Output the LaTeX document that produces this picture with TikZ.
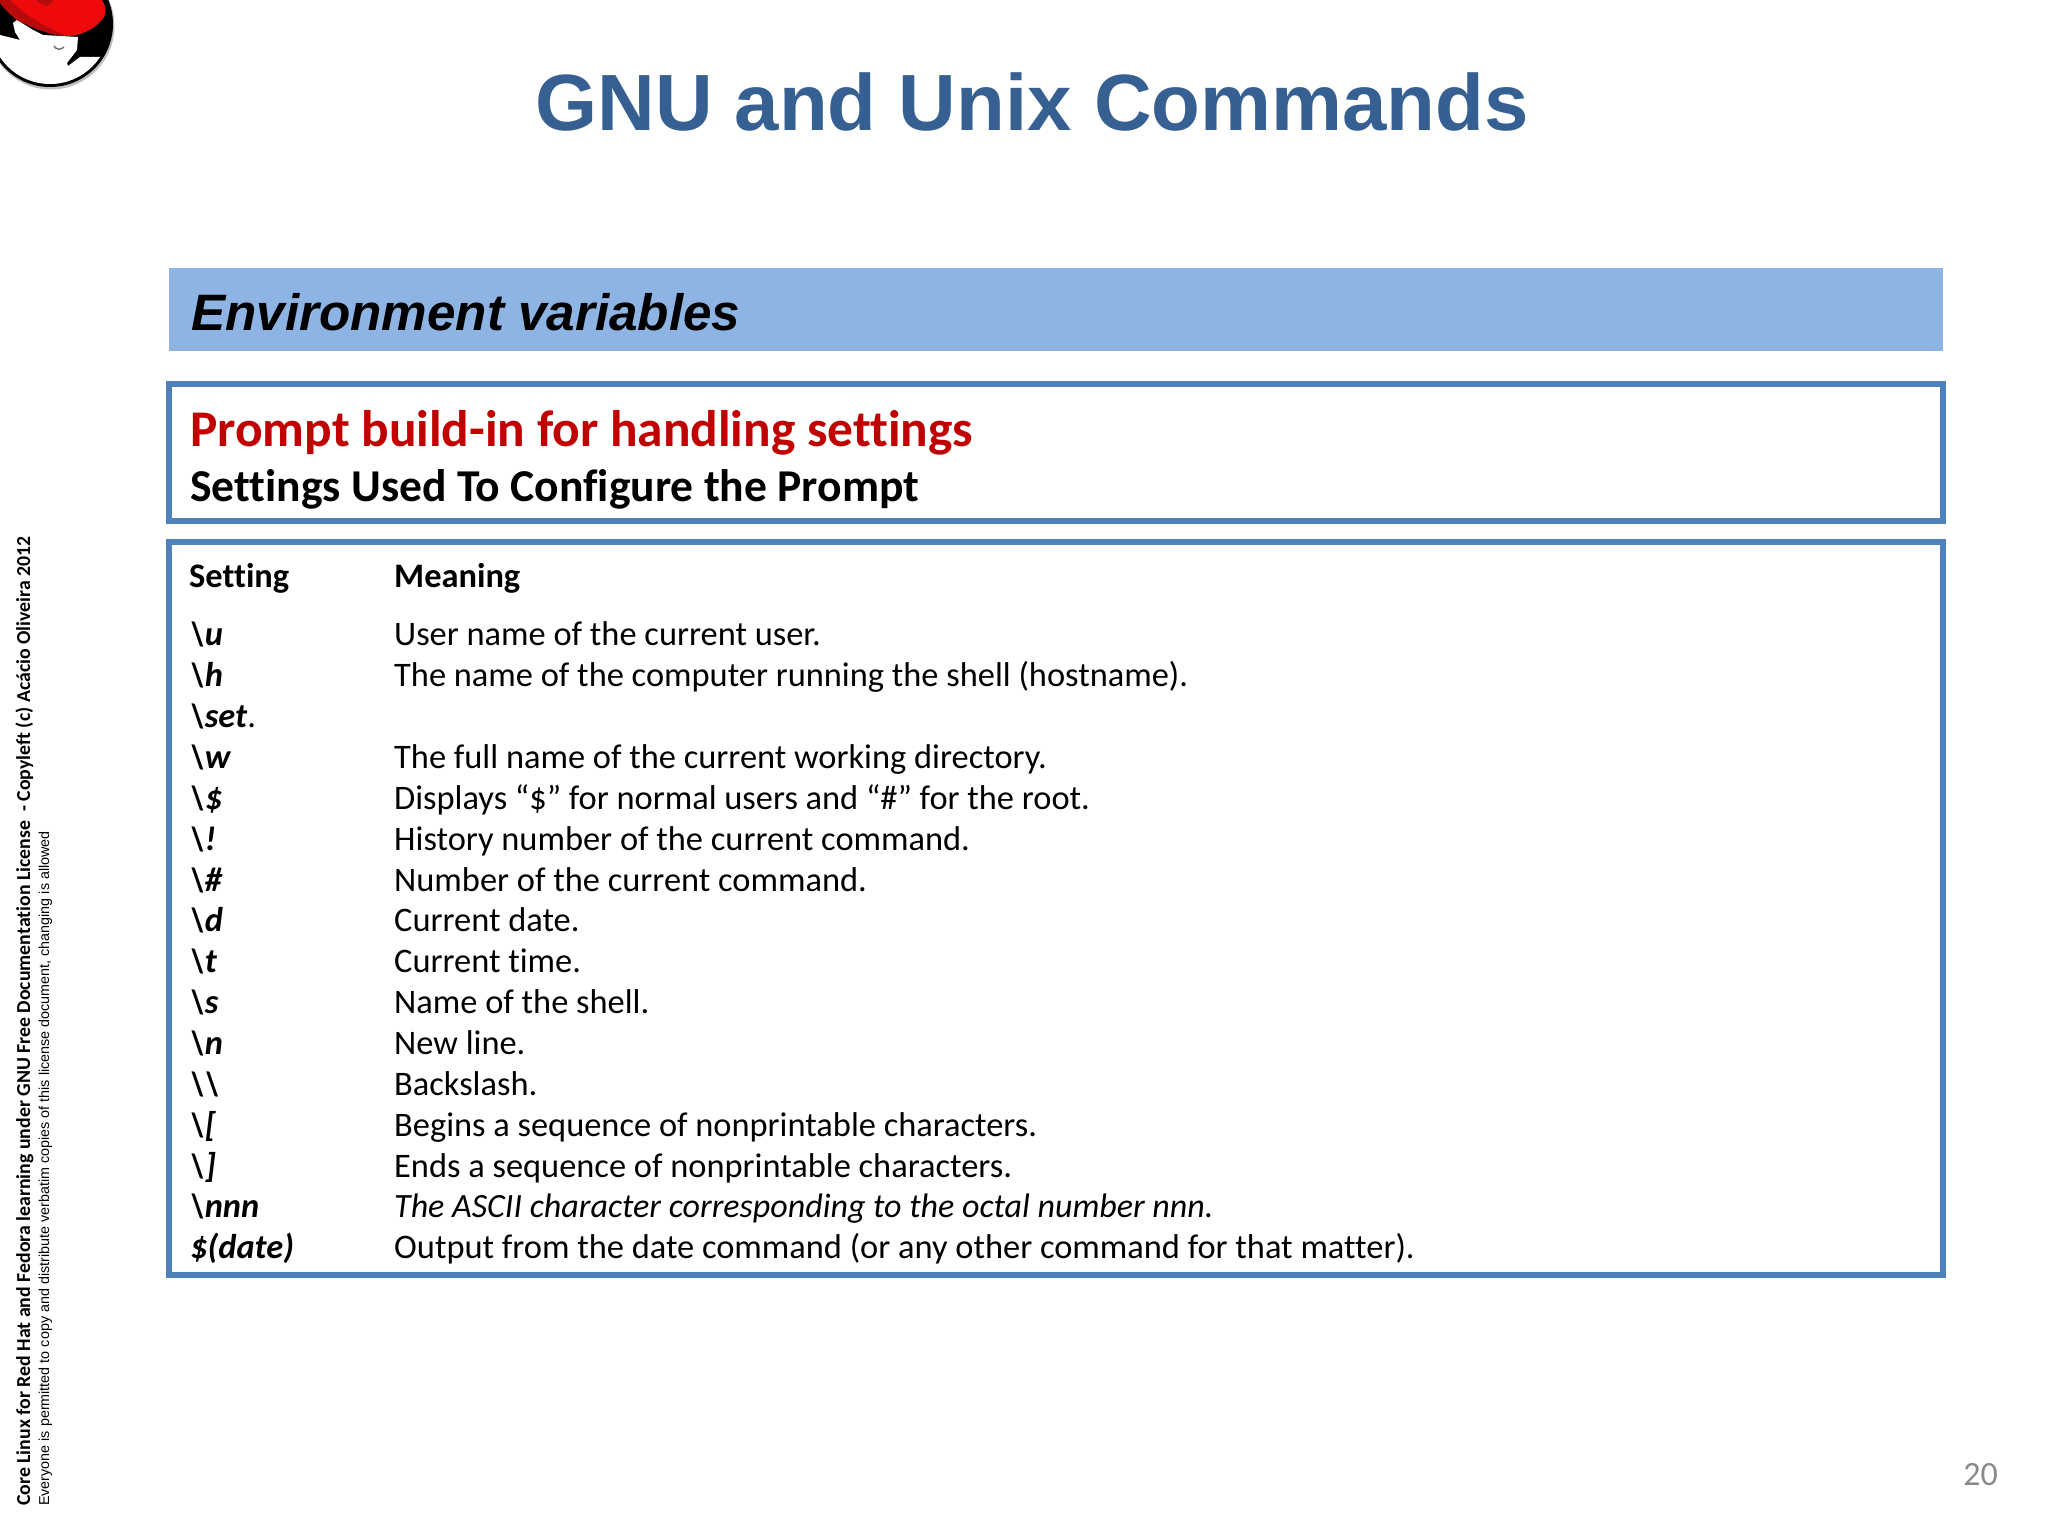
\documentclass[tikz,border=0pt]{standalone}
\usepackage{fontspec}
\setmainfont[Ligatures=NoCommon]{Carlito}
\newfontfamily\arialf{Liberation Sans}
\definecolor{titleblue}{HTML}{376092}
\definecolor{bandblue}{HTML}{8EB4E3}
\definecolor{boxblue}{HTML}{4F81BD}
\definecolor{promptred}{HTML}{C00000}
\definecolor{pagegray}{HTML}{8B8B8B}
\definecolor{hatred}{HTML}{EE0A0A}
\definecolor{hatdark}{HTML}{B80A0A}
\tikzset{
  px/.style={x=1pt,y=-1pt},
  boxframe/.style={draw=boxblue,line width=5.5pt,fill=white},
  rowtxt/.style={anchor=base west,inner sep=0pt,font=\fontsize{34.4}{40}\selectfont},
  keytxt/.style={anchor=base west,inner sep=0pt,font=\fontsize{34.4}{40}\selectfont\bfseries\itshape},
  headtxt/.style={anchor=base west,inner sep=0pt,font=\fontsize{34.4}{40}\selectfont\bfseries},
  sidebold/.style={anchor=base west,inner sep=0pt,rotate=90,font=\fontsize{19.8}{22}\selectfont\bfseries},
  sidethin/.style={anchor=base west,inner sep=0pt,rotate=90,font=\arialf\fontsize{14.35}{16}\selectfont}
}
\begin{document}
\begin{tikzpicture}[px]
\useasboundingbox (0,0) rectangle (2048,1536);
\fill[white] (0,0) rectangle (2048,1536);
% logo
\fill[black!25] (51,26) circle (63.5);
\fill[black] (50,24) circle (63);
\begin{scope}
\clip (50,24) circle (60);
\fill[white] (-20,35) -- (0,35) -- (12,38) -- (20,40) -- (15,32) -- (13,23) -- (17,20) -- (33,30) -- (43,35) -- (78,37) -- (77,50) -- (67,63) -- (68,66) -- (80,57) -- (102,57) -- (120,120) -- (-20,120) -- cycle;
\end{scope}
\fill[hatred] (0,-2) -- (100,-2) .. controls (106,4) and (107,12) .. (104,17) .. controls (98,27) and (82,36) .. (68,36) .. controls (50,36) and (30,26) .. (17,20) .. controls (10,14) and (3,8) .. (0,2) -- cycle;
\fill[hatdark] (0,2) .. controls (3,8) and (10,14) .. (17,20) .. controls (30,26) and (50,36) .. (68,36) .. controls (50,30) and (25,16) .. (10,0) -- (0,0) -- cycle;
\fill[hatdark] (36,0) -- (54,0) -- (48,6) -- (42,5) -- cycle;
\draw[black!55,line width=1.5pt] (54,46) .. controls (56,50) and (61,50) .. (64,47);
% title
\node[inner sep=0pt,anchor=base,text=titleblue,font=\arialf\bfseries\fontsize{79.8}{90}\selectfont] (title) at (1032,131) {GNU and Unix Commands};
% band
\fill[bandblue] (169,268) rectangle (1943,351);
\node[inner sep=0pt,anchor=base west,font=\arialf\bfseries\itshape\fontsize{51.2}{58}\selectfont] (band) at (191,330) {Environment variables};
% boxes
\draw[boxframe] (169,384) rectangle (1943,521);
\node[inner sep=0pt,anchor=base west,text=promptred,font=\bfseries\fontsize{51.4}{56}\selectfont] (h1) at (190,446) {Prompt build-in for handling settings};
\node[inner sep=0pt,anchor=base west,font=\bfseries\fontsize{45.6}{50}\selectfont] (h2) at (190,501) {Settings Used To Configure the Prompt};
\draw[boxframe] (169,542) rectangle (1943,1275);
\node[headtxt] (hs) at (189,587) {Setting};
\node[headtxt] (hm) at (394,587) {Meaning};
\node[keytxt] (k1) at (190,645) {\textbackslash u};
\node[rowtxt] (m1) at (394,645) {User name of the current user.};
\node[keytxt] (k2) at (190,686) {\textbackslash h};
\node[rowtxt] (m2) at (394,686) {The name of the computer running the shell (hostname).};
\node[keytxt] (k3) at (190,727) {\textbackslash set\textup{\mdseries .}};
\node[keytxt] (k4) at (190,768) {\textbackslash w};
\node[rowtxt] (m4) at (394,768) {The full name of the current working directory.};
\node[keytxt] (k5) at (190,809) {\textbackslash \$};
\node[rowtxt] (m5) at (394,809) {Displays “\$” for normal users and “\#” for the root.};
\node[keytxt] (k6) at (190,850) {\textbackslash !};
\node[rowtxt] (m6) at (394,850) {History number of the current command.};
\node[keytxt] (k7) at (190,891) {\textbackslash \#};
\node[rowtxt] (m7) at (394,891) {Number of the current command.};
\node[keytxt] (k8) at (190,931) {\textbackslash d};
\node[rowtxt] (m8) at (394,931) {Current date.};
\node[keytxt] (k9) at (190,972) {\textbackslash t};
\node[rowtxt] (m9) at (394,972) {Current time.};
\node[keytxt] (k10) at (190,1013) {\textbackslash s};
\node[rowtxt] (m10) at (394,1013) {Name of the shell.};
\node[keytxt] (k11) at (190,1054) {\textbackslash n};
\node[rowtxt] (m11) at (394,1054) {New line.};
\node[keytxt] (k12) at (190,1095) {\textbackslash\textbackslash};
\node[rowtxt] (m12) at (394,1095) {Backslash.};
\node[keytxt] (k13) at (190,1136) {\textbackslash [};
\node[rowtxt] (m13) at (394,1136) {Begins a sequence of nonprintable characters.};
\node[keytxt] (k14) at (190,1177) {\textbackslash ]};
\node[rowtxt] (m14) at (394,1177) {Ends a sequence of nonprintable characters.};
\node[keytxt] (k15) at (190,1217) {\textbackslash nnn};
\node[rowtxt,font=\fontsize{34}{40}\selectfont\itshape] (m15) at (394,1217) {The ASCII character corresponding to the octal number nnn.};
\node[keytxt] (k16) at (190,1258) {\$(date)};
\node[rowtxt] (m16) at (394,1258) {Output from the date command (or any other command for that matter).};
% side
\node[sidebold] (s1) at (30,1506) {Core Linux for Red Hat and Fedora learning under GNU Free Documentation License\ \ - Copyleft (c) Acácio Oliveira 2012};
\node[sidethin] (s2) at (49,1506) {Everyone is permitted to copy and distribute verbatim copies of this license document, changing is allowed};
% page
\node[inner sep=0pt,anchor=base east,text=pagegray,font=\fontsize{34}{38}\selectfont] (pg) at (1998,1485) {20};
\end{tikzpicture}
\end{document}
